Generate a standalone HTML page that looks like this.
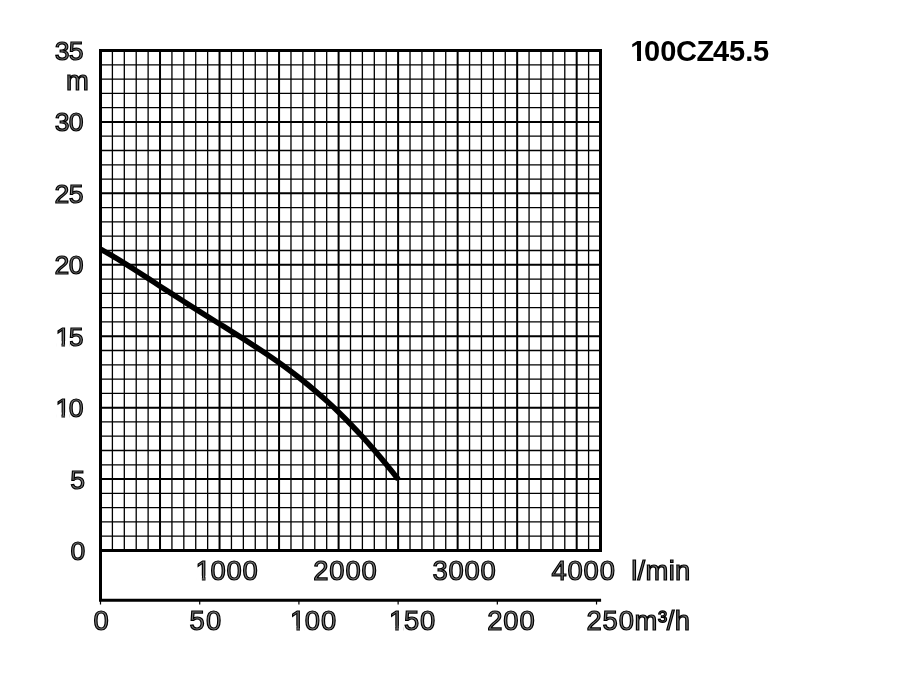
<!DOCTYPE html><html><head><meta charset="utf-8"><title>100CZ45.5</title>
<style>html,body{margin:0;padding:0;background:#fff}svg{display:block}text{font-family:"Liberation Sans",sans-serif}.l{fill:#787878;stroke:#000;stroke-width:1.2px;stroke-linejoin:miter}.t{font-weight:bold;fill:#000;stroke:none}</style></head><body>
<svg width="900" height="700" viewBox="0 0 900 700">
<rect width="900" height="700" fill="#fff"/>
<path d="M112.40 50.5V550.5M124.31 50.5V550.5M136.21 50.5V550.5M148.12 50.5V550.5M171.93 50.5V550.5M183.83 50.5V550.5M195.74 50.5V550.5M207.64 50.5V550.5M231.45 50.5V550.5M243.36 50.5V550.5M255.26 50.5V550.5M267.17 50.5V550.5M290.98 50.5V550.5M302.88 50.5V550.5M314.79 50.5V550.5M326.69 50.5V550.5M350.50 50.5V550.5M362.40 50.5V550.5M374.31 50.5V550.5M386.21 50.5V550.5M410.02 50.5V550.5M421.93 50.5V550.5M433.83 50.5V550.5M445.74 50.5V550.5M469.55 50.5V550.5M481.45 50.5V550.5M493.36 50.5V550.5M505.26 50.5V550.5M529.07 50.5V550.5M540.98 50.5V550.5M552.88 50.5V550.5M564.79 50.5V550.5M588.60 50.5V550.5M100.5 64.79H600.5M100.5 79.07H600.5M100.5 93.36H600.5M100.5 107.64H600.5M100.5 136.21H600.5M100.5 150.50H600.5M100.5 164.79H600.5M100.5 179.07H600.5M100.5 207.64H600.5M100.5 221.93H600.5M100.5 236.21H600.5M100.5 250.50H600.5M100.5 279.07H600.5M100.5 293.36H600.5M100.5 307.64H600.5M100.5 321.93H600.5M100.5 350.50H600.5M100.5 364.79H600.5M100.5 379.07H600.5M100.5 393.36H600.5M100.5 421.93H600.5M100.5 436.21H600.5M100.5 450.50H600.5M100.5 464.79H600.5M100.5 493.36H600.5M100.5 507.64H600.5M100.5 521.93H600.5M100.5 536.21H600.5" stroke="#000" stroke-width="1.3" fill="none"/>
<path d="M160.02 50.5V550.5M219.55 50.5V550.5M279.07 50.5V550.5M338.60 50.5V550.5M398.12 50.5V550.5M457.64 50.5V550.5M517.17 50.5V550.5M576.69 50.5V550.5M100.5 121.93H600.5M100.5 193.36H600.5M100.5 264.79H600.5M100.5 336.21H600.5M100.5 407.64H600.5M100.5 479.07H600.5" stroke="#000" stroke-width="2.0" fill="none"/>
<path d="M100.5 50.5H600.5V550.5H100.5Z" stroke="#000" stroke-width="3.0" fill="none" stroke-linejoin="miter"/>
<path d="M100.5 550.5V600.3H601.1" stroke="#000" stroke-width="3.0" fill="none"/>
<path d="M100.50 601V604.5M199.71 601V604.5M298.91 601V604.5M398.12 601V604.5M497.33 601V604.5M596.53 601V604.5" stroke="#000" stroke-width="1.2" fill="none"/>
<path d="M100.5 249.11C102.48 250.24 108.44 253.53 112.41 255.87C116.38 258.21 120.35 260.67 124.32 263.14C128.29 265.61 132.27 268.16 136.24 270.71C140.21 273.26 144.18 275.84 148.15 278.42C152.12 281.00 156.09 283.60 160.06 286.18C164.03 288.76 168.00 291.34 171.97 293.9C175.94 296.46 179.91 299.00 183.88 301.53C187.85 304.06 191.83 306.58 195.8 309.08C199.77 311.58 203.74 314.07 207.71 316.55C211.68 319.03 215.65 321.49 219.62 323.97C223.59 326.45 227.56 328.92 231.53 331.41C235.50 333.91 239.47 336.40 243.44 338.94C247.41 341.48 251.39 344.02 255.36 346.62C259.33 349.22 263.30 351.86 267.27 354.56C271.24 357.26 275.21 360.01 279.18 362.84C283.15 365.67 287.12 368.56 291.09 371.55C295.06 374.54 299.03 377.59 303.0 380.77C306.97 383.94 310.95 387.21 314.92 390.6C318.89 393.99 322.86 397.47 326.83 401.09C330.80 404.70 334.77 408.43 338.74 412.29C342.71 416.15 346.68 420.14 350.65 424.25C354.62 428.36 358.59 432.60 362.56 436.96C366.53 441.32 370.51 445.82 374.48 450.42C378.45 455.02 382.42 459.76 386.39 464.58C390.36 469.40 396.31 476.89 398.3 479.35" stroke="#000" stroke-width="5.5" fill="none" stroke-linecap="butt"/>
<defs><clipPath id="c4"><path clip-rule="evenodd" d="M0 0H900V700H0ZM56.23 341.07H61.49V347.86H56.23ZM65.04 341.07H69.84V347.86H65.04Z"/></clipPath><clipPath id="c5"><path clip-rule="evenodd" d="M0 0H900V700H0ZM56.23 412.50H61.49V419.29H56.23ZM65.04 412.50H69.84V419.29H65.04Z"/></clipPath><clipPath id="c9"><path clip-rule="evenodd" d="M0 0H900V700H0ZM196.49 575.65H201.89V582.50H196.49ZM205.51 575.65H210.45V582.50H205.51Z"/></clipPath><clipPath id="c16"><path clip-rule="evenodd" d="M0 0H900V700H0ZM290.99 625.65H296.39V632.50H290.99ZM300.01 625.65H304.95V632.50H300.01Z"/></clipPath><clipPath id="c17"><path clip-rule="evenodd" d="M0 0H900V700H0ZM389.79 625.65H395.19V632.50H389.79ZM398.81 625.65H403.75V632.50H398.81Z"/></clipPath><clipPath id="c20"><path clip-rule="evenodd" d="M0 0H900V700H0ZM631.53 55.64H637.07V61.60H631.53ZM641.05 55.64H645.97V61.60H641.05Z"/></clipPath></defs>
<text class="l" font-size="26.6" x="54.63 68.68" y="59.95">35</text>
<text class="l" font-size="26.6" x="54.63 68.78" y="131.38">30</text>
<text class="l" font-size="26.6" x="54.58 68.68" y="202.81">25</text>
<text class="l" font-size="26.6" x="54.58 68.78" y="274.24">20</text>
<text class="l" font-size="26.6" x="55.40 68.68" y="345.66" clip-path="url(#c4)">15</text>
<text class="l" font-size="26.6" x="55.40 68.78" y="417.09" clip-path="url(#c5)">10</text>
<text class="l" font-size="26.6" x="70.28" y="488.52">5</text>
<text class="l" font-size="26.6" x="70.38" y="559.95">0</text>
<text class="l" font-size="27.4" x="65.98" y="90.2">m</text>
<text class="l" font-size="27.4" x="195.60 210.38 226.48 242.58" y="580.3" clip-path="url(#c9)">1000</text>
<text class="l" font-size="27.4" x="313.28 329.28 345.38 361.48" y="580.3">2000</text>
<text class="l" font-size="27.4" x="432.38 448.38 464.48 480.58" y="580.3">3000</text>
<text class="l" font-size="27.4" x="551.38 567.48 583.58 599.68" y="580.3">4000</text>
<text class="l" font-size="27.4" x="631.28 637.48 645.38 668.68 674.88" y="580.4">l/min</text>
<text class="l" font-size="27.4" x="93.48" y="630.3">0</text>
<text class="l" font-size="27.4" x="189.48 205.88" y="630.3">50</text>
<text class="l" font-size="27.4" x="290.10 304.68 320.88" y="630.3" clip-path="url(#c16)">100</text>
<text class="l" font-size="27.4" x="388.90 404.08 420.08" y="630.3" clip-path="url(#c17)">150</text>
<text class="l" font-size="27.4" x="487.28 503.28 519.48" y="630.3">200</text>
<text class="l" font-size="27.4" x="586.38 602.48 618.68 634.48 657.98 666.68 674.68" y="630.3">250m³/h</text>
<text class="t" font-size="29" x="630.30 643.96 660.16 675.88 696.38 713.09 729.09 745.18 753.04" y="60.6" clip-path="url(#c20)">100CZ45.5</text>
</svg></body></html>
